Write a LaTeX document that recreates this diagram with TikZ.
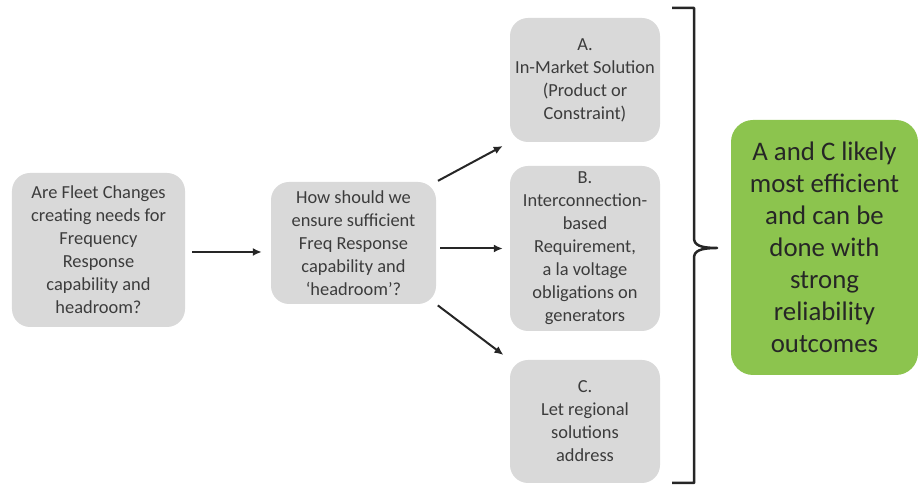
\documentclass[tikz,border=0pt]{standalone}
\usepackage{fontspec}
\setmainfont{Carlito}
\usetikzlibrary{arrows.meta,calc}
\definecolor{boxgray}{RGB}{217,217,217}
\definecolor{boxgreen}{RGB}{140,196,78}
\definecolor{txtgray}{RGB}{60,60,60}

\begin{document}
\begin{tikzpicture}[x=1bp,y=1bp,
		qbox/.style={fill=boxgray, rounded corners=18bp, text=txtgray, align=center, inner sep=0pt,
			font=\fontsize{18.4bp}{23bp}\selectfont},
		goodbox/.style={fill=boxgreen, rounded corners=22bp, text=black!85, align=center, inner sep=0pt,
			font=\fontsize{26.8bp}{32bp}\selectfont},
		flow/.style={line width=2bp, -{Latex[length=9bp,width=8bp]}, black!85}]
	\useasboundingbox (0,0) rectangle (918,485);
	% question boxes
	\node[qbox, minimum width=173bp, minimum height=154bp] (fleet) at (98.5,235)
		{Are Fleet Changes\\creating needs for\\Frequency\\Response\\capability and\\headroom?};
	\node[qbox, minimum width=165bp, minimum height=122bp] (ensure) at (353.5,242)
		{How should we\\ensure sufficient\\Freq Response\\capability and\\‘headroom’?};
	% the three options
	\node[qbox, minimum width=150bp, minimum height=124bp] (optA) at (585,405)
		{A.\\In-Market Solution\\(Product or\\Constraint)};
	\node[qbox, minimum width=150bp, minimum height=165bp] (optB) at (585,236.5)
		{B.\\Interconnection-\\based\\Requirement,\\a la voltage\\obligations on\\generators};
	\node[qbox, minimum width=150bp, minimum height=123bp] (optC) at (585,63.5)
		{C.\\Let regional\\solutions\\address};
	% conclusion
	\node[goodbox, minimum width=187bp, minimum height=255bp] (result) at (824.5,237.5)
		{A and C likely\\most efficient\\and can be\\done with\\strong\\reliability\\outcomes};
	% arrows
	\draw[flow, shorten <=7bp, shorten >=9bp] (fleet.east |- 0,233) -- (ensure.west |- 0,233);
	\draw[flow, shorten <=2bp, shorten >=8bp] (ensure.north east) -- (optA.south west);
	\draw[flow, shorten <=4bp, shorten >=7bp] (ensure.east |- optB) -- (optB.west);
	\draw[flow, shorten <=2bp, shorten >=8bp] (ensure.south east) -- (optC.north west);
	% brace
	\draw[line width=2.5bp, black!85, line join=round]
		(672,477) -- (694,477) -- (694,247)
		.. controls (694,240) and (700,237) .. (717,237)
		.. controls (700,237) and (694,234) .. (694,227)
		-- (694,2) -- (672,2);
\end{tikzpicture}
\end{document}
